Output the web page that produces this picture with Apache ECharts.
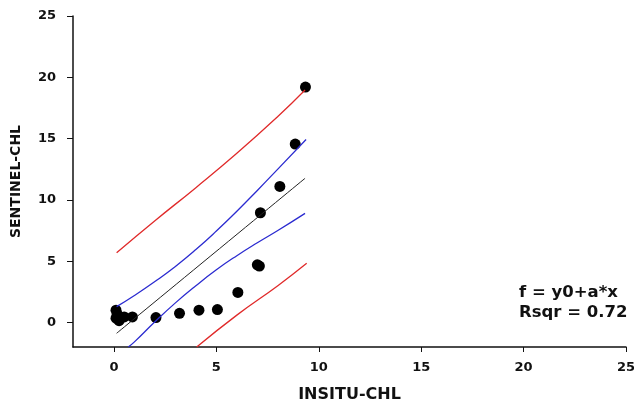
<!DOCTYPE html>
<html>
<head>
<meta charset="utf-8">
<script src="https://cdn.jsdelivr.net/npm/echarts@6/dist/echarts.min.js"></script>
<style>html,body{margin:0;padding:0;background:#fff}#c{width:634px;height:404px}</style>
</head>
<body>
<div id="c"></div>
<script>
// Observed data (INSITU-CHL vs SENTINEL-CHL)
const insitu   = [0.1, 0.15, 0.1, 0.25, 0.5, 0.9, 2.05, 3.2, 4.15, 5.05, 6.05, 7.0, 7.1, 7.15, 8.1, 8.85, 9.35];
const sentinel = [1.0, 0.7, 0.35, 0.15, 0.45, 0.45, 0.4, 0.75, 1.0, 1.05, 2.45, 4.7, 4.6, 8.95, 11.1, 14.55, 19.2];

// Regression line
const regX = [0.13, 9.33];
const regY = [-0.88, 11.76];
// Confidence band (blue)
const confUpX = [0.13, 1, 2, 3, 4, 5, 6, 7, 8, 9.38];
const confUpY = [1.29, 2.2, 3.34, 4.57, 5.95, 7.46, 9.07, 10.77, 12.51, 14.93];
const confLoX = [0.7, 1, 2, 3, 4, 5, 6, 7, 8, 9.33];
const confLoY = [-2.0, -1.58, 0.06, 1.6, 3.0, 4.3, 5.45, 6.5, 7.5, 8.9];
// Prediction band (red)
const predUpX = [0.13, 2, 4, 6, 8, 9.33];
const predUpY = [5.69, 8.3, 11.0, 13.8, 16.8, 18.96];
const predLoX = [4.04, 6, 8, 9.41];
const predLoY = [-2.0, 0.6, 3.0, 4.83];

// Tick labels
const xTicks = [0, 5, 10, 15, 20, 25];
const yTicks = [0, 5, 10, 15, 20, 25];

const zip = (a, b) => a.map((v, i) => [v, b[i]]);
const FONT = 'DejaVu Sans';

const chart = echarts.init(document.getElementById('c'), null, {renderer: 'canvas'});
const lineSeries = (x, y, color, width) => ({
  type: 'line', data: zip(x, y), symbol: 'none', smooth: true, z: 5,
  lineStyle: {color: color, width: width}, silent: true, clip: true
});
chart.setOption({
  animation: false,
  backgroundColor: '#ffffff',
  grid: {left: 73, right: 8, top: 16, bottom: 57, outerBoundsMode: 'none', containLabel: false},
  xAxis: {
    type: 'value', min: -2, max: 25,
    name: 'INSITU-CHL', nameLocation: 'middle', nameGap: 40,
    nameTextStyle: {fontFamily: FONT, fontWeight: 'bold', fontSize: 16, color: '#111'},
    axisLine: {show: true, onZero: false, lineStyle: {color: '#111', width: 1.5}},
    axisTick: {show: true, customValues: xTicks, length: 5, lineStyle: {color: '#111'}},
    axisLabel: {customValues: xTicks, margin: 14, fontFamily: FONT, fontWeight: 'bold', fontSize: 13, color: '#111'},
    splitLine: {show: false}
  },
  yAxis: {
    type: 'value', min: -2, max: 25,
    name: 'SENTINEL-CHL', nameLocation: 'middle', nameGap: 50, nameRotate: 90,
    nameTextStyle: {fontFamily: FONT, fontWeight: 'bold', fontSize: 14, color: '#111'},
    axisLine: {show: true, onZero: false, lineStyle: {color: '#111', width: 1.5}},
    axisTick: {show: true, customValues: yTicks, length: 6, lineStyle: {color: '#111'}},
    axisLabel: {customValues: yTicks, margin: 17, fontFamily: FONT, fontWeight: 'bold', fontSize: 13, color: '#111'},
    splitLine: {show: false}
  },
  series: [
    {type: 'scatter', data: zip(insitu, sentinel), symbolSize: 11, z: 2,
     itemStyle: {color: '#000', opacity: 1}},
    lineSeries(regX, regY, '#222222', 1),
    lineSeries(confUpX, confUpY, '#2b2bd0', 1.3),
    lineSeries(confLoX, confLoY, '#2b2bd0', 1.3),
    lineSeries(predUpX, predUpY, '#e02a2a', 1.3),
    lineSeries(predLoX, predLoY, '#e02a2a', 1.3)
  ],
  graphic: [
    {type: 'text', left: 519, top: 284, style: {text: 'f = y0+a*x', fontFamily: FONT, fontWeight: 'bold', fontSize: 16.5, fill: '#111'}},
    {type: 'text', left: 519, top: 304, style: {text: 'Rsqr = 0.72', fontFamily: FONT, fontWeight: 'bold', fontSize: 16.5, fill: '#111'}}
  ]
});
</script>
</body>
</html>
